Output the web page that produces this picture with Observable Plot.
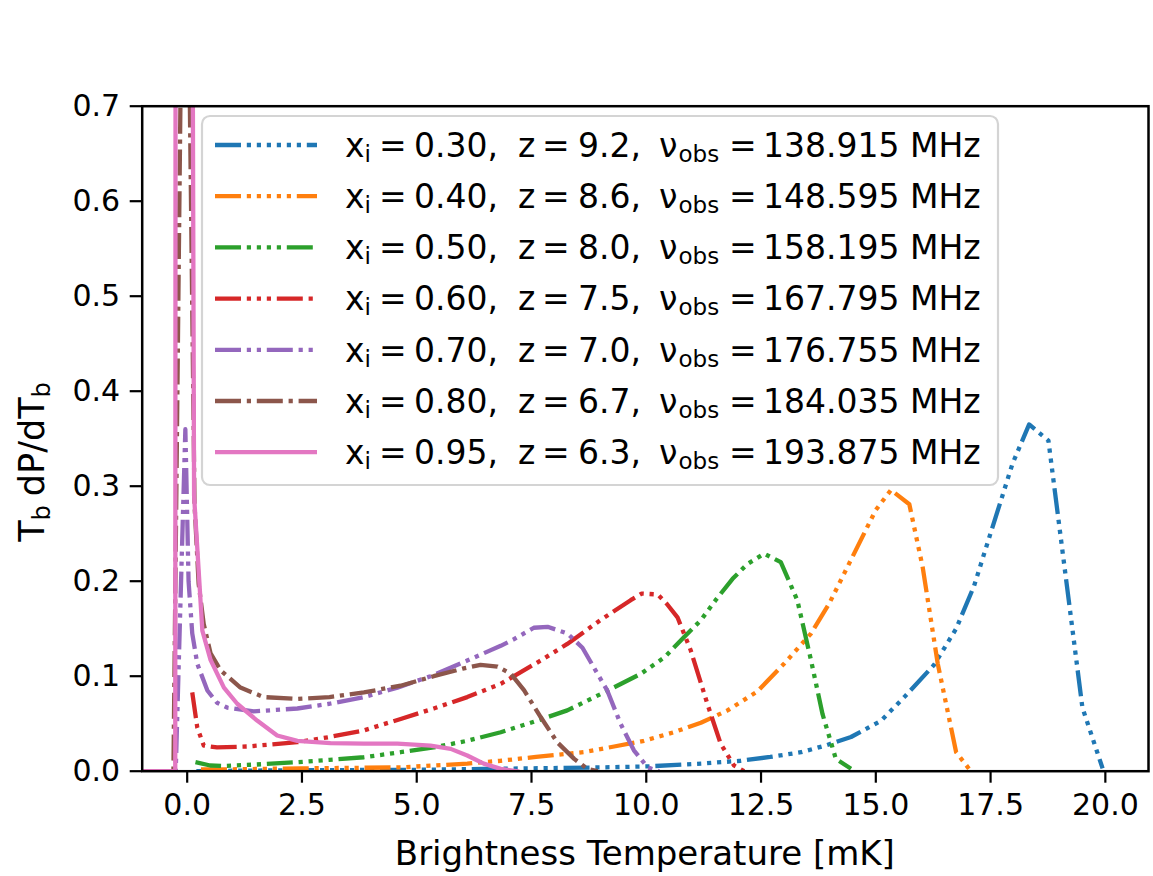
<!DOCTYPE html>
<html><head><meta charset="utf-8">
<script src="https://cdn.jsdelivr.net/npm/d3@7"></script>
<script src="https://cdn.jsdelivr.net/npm/@observablehq/plot@0.6"></script>
<style>
body{margin:0;background:#fff}
#chart{position:relative;width:1153px;height:876px}
</style>
</head><body><div id="chart"></div>
<script>
// ---- data ----
const xiValues = ["0.30","0.40","0.50","0.60","0.70","0.80","0.95"];
const zValues = ["9.2","8.6","8.0","7.5","7.0","6.7","6.3"];
const nuValues = ["138.915","148.595","158.195","167.795","176.755","184.035","193.875"];
const colors = ["#1f77b4","#ff7f0e","#2ca02c","#d62728","#9467bd","#8c564b","#e377c2"];
const dotCounts = [6,5,4,3,2,1,0];
const xTicks = [0,2.5,5,7.5,10,12.5,15,17.5,20];
const yTicks = [0,0.1,0.2,0.3,0.4,0.5,0.6,0.7];

const s030 = [[0.2,0.0],[1.0,0.0005],[2.5,0.001],[5.0,0.0015],[7.5,0.003],[9.0,0.004],[10.0,0.005],[11.2,0.008],[12.06,0.011],[12.7,0.015],[13.37,0.02],[13.9,0.027],[14.46,0.036],[15.11,0.053],[15.62,0.078],[16.27,0.112],[16.75,0.15],[17.14,0.195],[17.51,0.252],[17.98,0.324],[18.34,0.365],[18.76,0.348],[19.5,0.067],[19.94,0.003]];
const s040 = [[0.3,0.002],[1.0,0.002],[2.5,0.003],[4.65,0.004],[6.1,0.008],[6.83,0.011],[7.6,0.015],[8.64,0.02],[9.3,0.026],[9.95,0.032],[10.6,0.041],[11.19,0.051],[11.77,0.064],[12.42,0.084],[13.0,0.113],[13.59,0.145],[13.98,0.176],[14.31,0.208],[14.67,0.243],[15.0,0.275],[15.33,0.296],[15.73,0.281],[16.02,0.215],[16.35,0.113],[16.75,0.02],[17.07,0.0]];
const s050 = [[0.18,0.0095],[0.5,0.006],[0.8,0.0055],[1.5,0.007],[2.4,0.0095],[3.1,0.012],[3.85,0.0147],[4.65,0.02],[5.37,0.025],[6.1,0.032],[6.83,0.041],[7.55,0.052],[8.28,0.064],[9.0,0.081],[9.88,0.1025],[10.4,0.12],[10.82,0.141],[11.19,0.159],[11.51,0.18],[11.88,0.2025],[12.2,0.218],[12.57,0.229],[12.93,0.22],[13.29,0.18],[13.59,0.1165],[13.84,0.06],[14.13,0.013],[14.46,0.0025]];
const s060 = [[0.11,0.083],[0.22,0.046],[0.36,0.027],[0.65,0.025],[1.31,0.026],[2.4,0.0305],[3.1,0.036],[3.85,0.043],[4.65,0.055],[5.37,0.066],[6.1,0.078],[6.83,0.092],[7.7,0.1165],[8.28,0.134],[9.0,0.159],[9.66,0.18],[9.9,0.187],[10.25,0.186],[10.45,0.176],[10.68,0.162],[10.97,0.127],[11.33,0.071],[11.62,0.029],[11.91,0.006],[12.13,0.0]];
const s070 = [[-0.98,0],[-0.25,0],[-0.04,0.36],[0.03,0.2],[0.11,0.145],[0.22,0.113],[0.44,0.085],[0.65,0.072],[0.87,0.067],[1.45,0.063],[2.4,0.066],[3.1,0.071],[3.85,0.078],[4.58,0.088],[5.3,0.1],[6.1,0.1165],[6.83,0.132],[7.12,0.139],[7.55,0.151],[7.85,0.152],[8.28,0.145],[8.61,0.13],[8.86,0.109],[9.15,0.085],[9.44,0.05],[9.73,0.022],[10.03,0.004],[10.28,0.0]];
const s080 = [[-0.98,0],[-0.3,0],[-0.05,1.15],[0.16,0.28],[0.25,0.197],[0.36,0.155],[0.51,0.124],[0.73,0.106],[1.16,0.088],[1.67,0.078],[2.4,0.076],[3.1,0.078],[3.85,0.083],[4.65,0.09],[5.37,0.1],[6.0,0.108],[6.39,0.112],[6.76,0.11],[7.05,0.1025],[7.34,0.085],[7.7,0.057],[8.06,0.0305],[8.43,0.013],[8.72,0.0025],[8.94,0]];
const s095 = [[-0.98,0],[-0.26,0],[-0.21,6.0],[0.15,0.29],[0.33,0.148],[0.51,0.117],[0.8,0.088],[1.09,0.071],[1.53,0.053],[1.96,0.0376],[2.4,0.032],[3.12,0.0295],[3.85,0.029],[4.58,0.029],[5.3,0.027],[5.74,0.0235],[6.1,0.0165],[6.46,0.008],[6.83,0.0025],[7.19,0]];
const seriesData = [s030,s040,s050,s060,s070,s080,s095];

// ---- layout ----
const W = 1153, H = 876;
const mL = 141.7, mR = 5, mT = 105.7, mB = 105.3;
const FONT = "DejaVu Sans";
const LW = 4.3;

function dash(n){
  if (n === 0) return undefined;
  const a = [26, 5.8];
  for (let k = 0; k < n; k++) a.push(4.2, 5.8);
  return a.join(",");
}

const lineMarks = seriesData.map((s, i) => Plot.line(s, {
  x: d => d[0], y: d => d[1],
  stroke: colors[i], strokeWidth: LW,
  strokeDasharray: dash(dotCounts[i]),
  strokeLinecap: dotCounts[i] === 0 ? "square" : "butt",
  strokeLinejoin: "round",
  clip: true
}));

const plot = Plot.plot({
  width: W, height: H,
  marginLeft: mL, marginRight: mR, marginTop: mT, marginBottom: mB,
  style: {fontFamily: FONT, fontSize: "30px", background: "white", color: "black", overflow: "visible"},
  x: {domain: [-0.98, 20.94]},
  y: {domain: [0, 0.7]},
  marks: [
    ...lineMarks,
    Plot.frame({stroke: "black", strokeWidth: 2.5}),
    Plot.axisX({ticks: xTicks, tickSize: 12, tickPadding: 10, strokeWidth: 2.2, tickFormat: d => d.toFixed(1), label: null}),
    Plot.axisY({ticks: yTicks, tickSize: 12, tickPadding: 10, strokeWidth: 2.2, tickFormat: d => d.toFixed(1), label: null})
  ]
});

const svg = d3.select(plot);

// axis labels
svg.append("text")
  .attr("x", (mL + W - mR) / 2).attr("y", 865)
  .attr("text-anchor", "middle")
  .attr("font-family", FONT).attr("font-size", 34).attr("fill", "black")
  .text("Brightness Temperature [mK]");

const yl = svg.append("text")
  .attr("transform", `translate(44,462) rotate(-90)`)
  .attr("text-anchor", "middle")
  .attr("font-family", FONT).attr("font-size", 35).attr("fill", "black");
yl.append("tspan").text("T");
yl.append("tspan").attr("font-size", 24).attr("dy", 6).text("b");
yl.append("tspan").attr("dy", -6).attr("dx", 9).text("dP/dT");
yl.append("tspan").attr("font-size", 24).attr("dy", 6).text("b");

// legend
const lg = svg.append("g").attr("text-anchor", "start");
lg.append("rect")
  .attr("x", 202).attr("y", 116).attr("width", 796).attr("height", 369)
  .attr("rx", 8).attr("ry", 8)
  .attr("fill", "white").attr("fill-opacity", 0.8)
  .attr("stroke", "#d4d4d4").attr("stroke-width", 2.2);

const rowY0 = 145, rowStep = 51.2;
xiValues.forEach((xi, i) => {
  const cy = rowY0 + i * rowStep;
  const base = cy + 11.7;
  lg.append("line")
    .attr("x1", 215).attr("x2", 317).attr("y1", cy).attr("y2", cy)
    .attr("stroke", colors[i]).attr("stroke-width", LW)
    .attr("stroke-dasharray", dash(dotCounts[i]) || null)
    .attr("stroke-linecap", "butt");
  const pieces = [
    {t: "x", x: 345, dy: 0, fs: 33},
    {t: "i", x: 364.5, dy: 5, fs: 23},
    {t: "=", x: 379, dy: 0, fs: 33},
    {t: xi + ",", x: 414, dy: 0, fs: 33},
    {t: "z", x: 518, dy: 0, fs: 33},
    {t: "=", x: 542, dy: 0, fs: 33},
    {t: zValues[i] + ",", x: 578, dy: 0, fs: 33},
    {t: "ν", x: 659, dy: 0, fs: 33},
    {t: "obs", x: 678.5, dy: 5, fs: 23},
    {t: "=", x: 729, dy: 0, fs: 33},
    {t: nuValues[i], x: 763, dy: 0, fs: 33},
    {t: "MHz", x: 910, dy: 0, fs: 33}
  ];
  pieces.forEach(p => {
    lg.append("text")
      .attr("x", p.x).attr("y", base + p.dy)
      .attr("text-anchor", "start")
      .attr("font-family", FONT).attr("font-size", p.fs).attr("fill", "black")
      .text(p.t);
  });
});

document.getElementById("chart").appendChild(plot);
</script>
</body></html>
